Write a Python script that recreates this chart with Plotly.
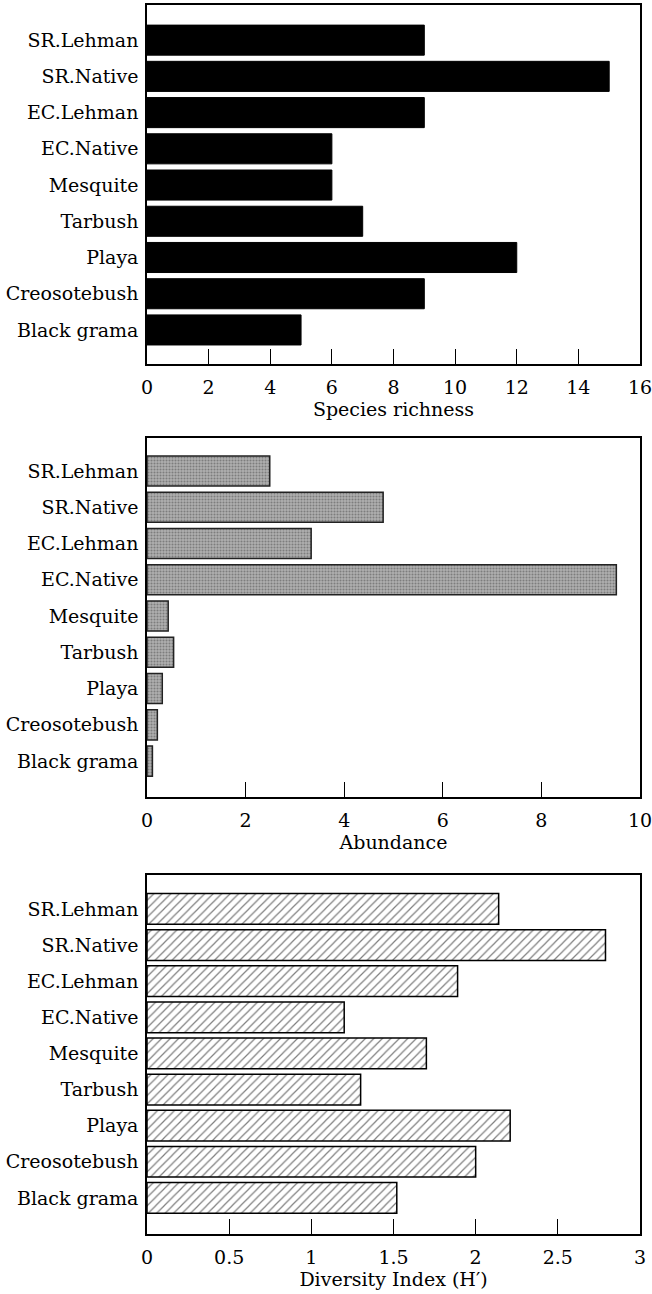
import plotly.graph_objects as go

categories = ["SR.Lehman", "SR.Native", "EC.Lehman", "EC.Native", "Mesquite",
              "Tarbush", "Playa", "Creosotebush", "Black grama"]
richness = [9, 15, 9, 6, 6, 7, 12, 9, 5]
abundance = [2.49, 4.79, 3.33, 9.52, 0.43, 0.54, 0.31, 0.21, 0.11]
diversity = [2.14, 2.79, 1.89, 1.20, 1.70, 1.30, 2.21, 2.00, 1.52]

titles = ["Species richness", "Abundance", "Diversity Index (H\u2032)"]
x_ranges = [[0, 16], [0, 10], [0, 3]]
x_dticks = [2, 2, 0.5]

W, H = 652, 1294
FONT = "DejaVu Serif"
FS = 19
px_left, px_right = 147, 640
panels_px = [(5, 364), (438, 797), (875, 1234)]

fig = go.Figure()

fig.add_trace(go.Bar(
    y=categories, x=richness, orientation="h", width=0.83,
    marker=dict(color="black", line=dict(color="black", width=1)),
    xaxis="x", yaxis="y", showlegend=False))

fig.add_trace(go.Bar(
    y=categories, x=abundance, orientation="h", width=0.83,
    marker=dict(color="#a8a8a8",
                pattern=dict(shape=".", fgcolor="#4a4a4a", bgcolor="#b0b0b0",
                             size=3, solidity=0.4),
                line=dict(color="#222222", width=1.5)),
    xaxis="x2", yaxis="y2", showlegend=False))

fig.add_trace(go.Bar(
    y=categories, x=diversity, orientation="h", width=0.85,
    marker=dict(color="white",
                pattern=dict(shape="/", fgcolor="black", bgcolor="white",
                             size=6, solidity=0.2),
                line=dict(color="black", width=1.5)),
    xaxis="x3", yaxis="y3", showlegend=False))

layout = dict(
    width=W, height=H,
    margin=dict(l=0, r=0, t=0, b=0),
    paper_bgcolor="white", plot_bgcolor="white",
    font=dict(family=FONT, size=FS, color="black"),
)

y_ranges = [[8.94, -0.97], [8.99, -0.91], [9.0, -0.94]]
for i in range(3):
    top, bot = panels_px[i]
    sx = "" if i == 0 else str(i + 1)
    layout["xaxis" + sx] = dict(
        domain=[px_left / W, px_right / W],
        anchor="y" + sx,
        range=x_ranges[i], dtick=x_dticks[i], tick0=0,
        showline=True, linecolor="black", linewidth=1.5, mirror=True,
        ticks="inside", ticklen=15, tickcolor="black", tickwidth=1.2,
        showgrid=False, zeroline=False, automargin=False,
        ticklabeloverflow="allow", ticklabelstandoff=5,
        tickfont=dict(family=FONT, size=FS, color="black"),
        title=dict(text=titles[i], font=dict(family=FONT, size=FS, color="black"),
                   standoff=2),
        fixedrange=True,
    )
    layout["yaxis" + sx] = dict(
        domain=[1 - bot / H, 1 - top / H],
        anchor="x" + sx,
        type="category", categoryorder="array", categoryarray=categories,
        range=y_ranges[i],
        showline=True, linecolor="black", linewidth=1.5, mirror=True,
        ticks="", showgrid=False, zeroline=False, automargin=False,
        ticklabeloverflow="allow",
        tickfont=dict(family=FONT, size=FS, color="black"),
        ticklabelstandoff=3,
        fixedrange=True,
    )

fig.update_layout(**layout)
fig.write_html(
    "out.html",
    config={"responsive": False, "displayModeBar": False},
    default_width="652px", default_height="1294px",
    post_script="document.body.style.margin='0';document.body.style.overflow='hidden';",
)
